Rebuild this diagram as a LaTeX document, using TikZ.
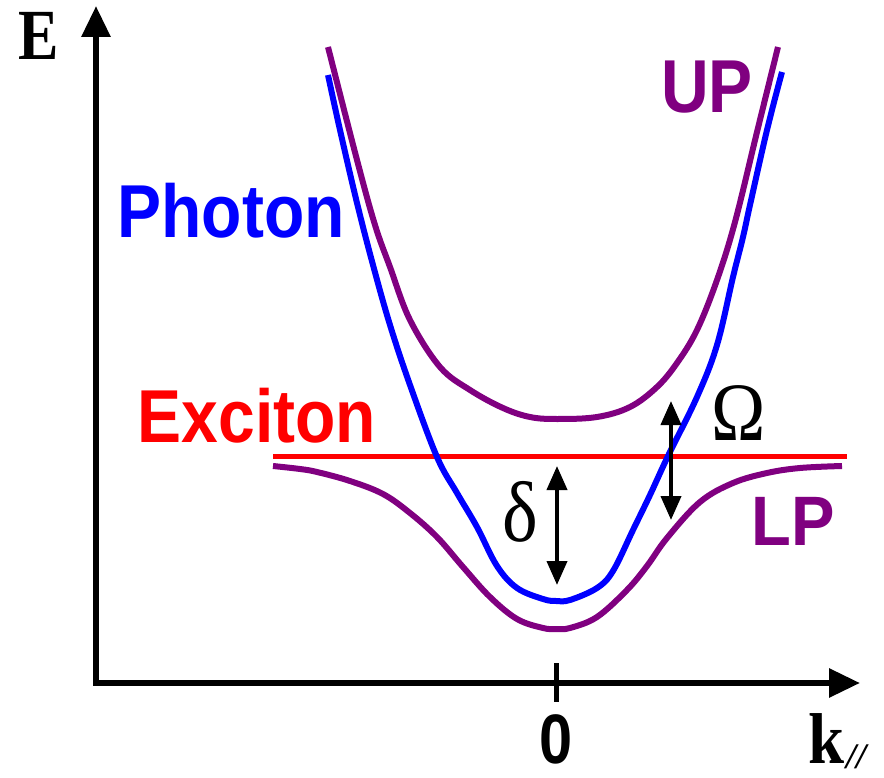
\documentclass[tikz,border=0pt]{standalone}
\usepackage{fontspec}
\newfontfamily\lsans{Liberation Sans}
\newfontfamily\lserif{Liberation Serif}
\usetikzlibrary{arrows.meta}
\definecolor{polc}{RGB}{128,0,128}
\definecolor{phoc}{RGB}{0,0,255}
\definecolor{excc}{RGB}{255,0,0}
\newcommand{\hsq}[2][0.88]{\scalebox{#1}[1]{#2}}
\begin{document}
\begin{tikzpicture}[x=1pt,y=-1pt,
  axisline/.style={line width=6pt, line join=miter,
    {Triangle[length=31pt,width=28pt]}-{Triangle[length=31pt,width=28pt]}},
  curve/.style={line width=6pt, line join=round},
  dblarrow/.style={line width=4pt,
    {Triangle[length=24pt,width=20pt]}-{Triangle[length=24pt,width=20pt]}},
  sanslbl/.style={inner sep=0pt, anchor=base, font=\lsans\bfseries\fontsize{75}{75}\selectfont},
  greeklbl/.style={inner sep=0pt, anchor=base, font=\lserif\fontsize{84}{84}\selectfont},
  seriflbl/.style={inner sep=0pt, anchor=base, font=\lserif\bfseries\fontsize{72}{72}\selectfont}]
\useasboundingbox (0,0) rectangle (884,778);
% axes
\coordinate (ytip) at (96,6);
\coordinate (origin) at (96,683);
\coordinate (xtip) at (860,683);
\draw[axisline] (ytip) -- (origin) -- (xtip);
\coordinate (tickt) at (556,663);
\coordinate (tickb) at (556,702);
\draw[line width=5pt] (tickt) -- (tickb);
% exciton line
\coordinate (exl) at (273,456);
\coordinate (exr) at (847,456);
\draw[excc, line width=5pt] (exl) -- (exr);
% upper polariton
\draw[curve, polc] plot[smooth, tension=0.6] coordinates {(328,47) (357,160) (375,225) (390,267) (410,320) (440,367) (470,390) (503,408) (530,417) (557,419) (597,417) (630,407) (657,387) (677,363) (697,330) (717,280) (735,222) (757,132) (778,47)};
% photon
\draw[curve, phoc] plot[smooth, tension=0.6] coordinates {(328,75) (340,130) (357,203) (373,265) (390,325) (410,385) (437,457) (457,493) (477,527) (497,566) (517,588) (543,599) (556,601) (570,600) (597,588) (613,571) (633,530) (650,495) (668,456) (697,397) (717,345) (733,277) (743,237) (750,205) (767,130) (782,72)};
% lower polariton
\draw[curve, polc] plot[smooth, tension=0.6] coordinates {(273,466) (300,469) (317,472) (350,481) (383,494) (410,513) (437,537) (463,567) (490,597) (517,619) (543,628) (556,629) (570,628) (597,617) (627,590) (647,566) (667,538) (700,502) (733,483) (767,473) (800,468) (842,466)};
% arrows
\coordinate (dtop) at (557,466);
\coordinate (dbot) at (557,585);
\draw[dblarrow] (dtop) -- (dbot);
\coordinate (otop) at (671,401);
\coordinate (obot) at (671,520);
\draw[dblarrow] (otop) -- (obot);
% labels
\node[seriflbl] (elbl) at (39,60) {\hsq[0.84]{E}};
\node[sanslbl, text=phoc] (photon) at (231,238) {\hsq{Photon}};
\node[sanslbl, text=excc] (exciton) at (257,442) {\hsq{Exciton}};
\node[sanslbl, text=polc] (up) at (707,113) {\hsq{UP}};
\node[sanslbl, text=polc, font=\lsans\bfseries\fontsize{70}{70}\selectfont] (lp) at (793,545) {\hsq[0.93]{LP}};
\node[greeklbl, font=\lserif\fontsize{86}{86}\selectfont] (delta) at (520,541) {\hsq{δ}};
\node[greeklbl, font=\lserif\fontsize{83}{83}\selectfont] (omega) at (739,440) {\hsq{Ω}};
\node[sanslbl, font=\lsans\bfseries\fontsize{70}{70}\selectfont] (zero) at (556,763) {\hsq[0.85]{0}};
\node[seriflbl] (klbl) at (827,763) {\hsq[0.9]{k}};
\node[inner sep=0pt, anchor=base west, font=\lserif\bfseries\itshape\fontsize{36}{36}\selectfont] (par) at (846,768) {//};
\end{tikzpicture}
\end{document}
